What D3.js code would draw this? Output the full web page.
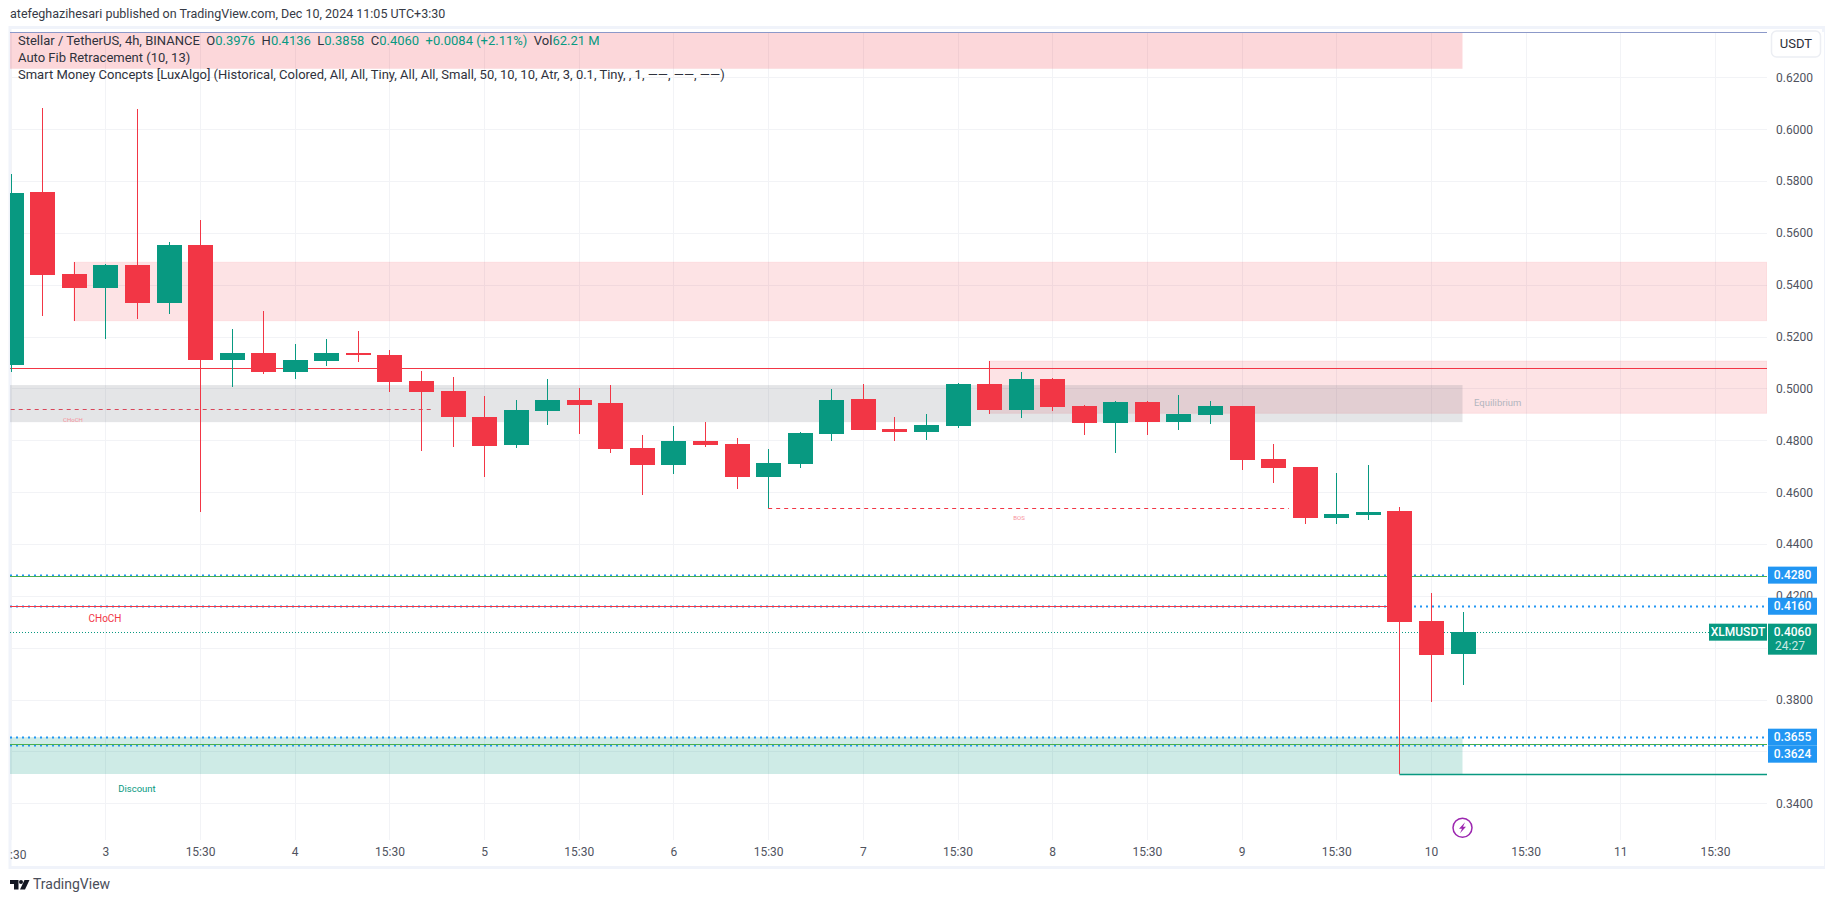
<!DOCTYPE html>
<html>
<head>
<meta charset="utf-8">
<title>XLMUSDT 4h</title>
<script src="https://cdn.jsdelivr.net/npm/d3@7"></script>
<style>
  html, body { margin: 0; padding: 0; background: #fff; overflow: hidden; }
  svg { display: block; }
  text { font-family: Roboto, sans-serif; }
</style>
</head>
<body>
<div id="chart"></div>
<script>
// Candles (bar 0 is cut by the left edge of the pane)
const opens  = [0.5090,0.5757,0.5441,0.5387,0.5476,0.5329,0.5553,0.5109,0.5136,0.5063,0.5106,0.5136,0.5129,0.5028,0.4990,0.4890,0.4782,0.4913,0.4955,0.4944,0.4770,0.4704,0.4797,0.4786,0.4658,0.4708,0.4824,0.4959,0.4843,0.4832,0.4855,0.5017,0.4917,0.5036,0.4932,0.4866,0.4947,0.4870,0.4897,0.4932,0.4728,0.4697,0.4500,0.4512,0.4527,0.4103,0.3976];
const highs  = [0.5827,0.6081,0.5487,0.5480,0.6078,0.5565,0.5649,0.5229,0.5298,0.5171,0.5190,0.5221,0.5148,0.5067,0.5044,0.4971,0.4955,0.5036,0.5001,0.5013,0.4820,0.4855,0.4870,0.4809,0.4766,0.4832,0.4998,0.5017,0.4890,0.4901,0.5021,0.5106,0.5063,0.5040,0.4936,0.4951,0.4951,0.4974,0.4951,0.4932,0.4786,0.4697,0.4674,0.4704,0.4543,0.4211,0.4136];
const lows   = [0.5064,0.5280,0.5261,0.5190,0.5268,0.5287,0.4523,0.5005,0.5055,0.5036,0.5086,0.5102,0.4986,0.4758,0.4774,0.4658,0.4770,0.4859,0.4824,0.4751,0.4589,0.4670,0.4774,0.4612,0.4540,0.4693,0.4797,0.4839,0.4797,0.4801,0.4847,0.4901,0.4886,0.4913,0.4820,0.4751,0.4820,0.4839,0.4863,0.4685,0.4635,0.4477,0.4477,0.4492,0.3513,0.3790,0.3858];
const closes = [0.5754,0.5437,0.5387,0.5476,0.5329,0.5553,0.5109,0.5136,0.5063,0.5109,0.5136,0.5129,0.5025,0.4986,0.4890,0.4778,0.4917,0.4955,0.4936,0.4766,0.4704,0.4797,0.4782,0.4658,0.4712,0.4828,0.4955,0.4839,0.4832,0.4859,0.5017,0.4917,0.5036,0.4928,0.4866,0.4947,0.4870,0.4901,0.4932,0.4724,0.4693,0.4500,0.4516,0.4523,0.4099,0.3972,0.4060];

// Axis ticks
const gridPrices  = [0.34,0.36,0.38,0.40,0.42,0.44,0.46,0.48,0.50,0.52,0.54,0.56,0.58,0.60,0.62];
const labelPrices = [0.34,0.38,0.42,0.44,0.46,0.48,0.50,0.52,0.54,0.56,0.58,0.60,0.62];
const timeBars    = [0,3,6,9,12,15,18,21,24,27,30,33,36,39,42,45,48,51,54];
const timeLabels  = ["15:30","3","15:30","4","15:30","5","15:30","6","15:30","7","15:30","8","15:30","9","15:30","10","15:30","11","15:30"];

// Smart money zones: first bar, last bar (null = runs to the price scale), top, bottom
const zoneStarts  = [0,2,31,0,0];
const zoneEnds    = [46,null,null,46,46];
const zoneTops    = [0.6373,0.5487,0.5106,0.5013,0.3655];
const zoneBottoms = [0.6233,0.5261,0.4904,0.4870,0.3513];
const zoneKinds   = ["premium","supply","supply","equilibrium","discount"];

// Structure lines
const chochPrice = 0.4919, chochStart = 0, chochEnd = 13.4;
const bosPrice = 0.4540, bosStart = 24, bosEnd = 40.5;
const swingHigh = 0.5077;
const fibRed = 0.4162, fibRedEnd = 44;
const fibGreenA = 0.4277, fibGreenB = 0.3628;
const swingLow = 0.3513, swingLowStart = 44;

// Price scale labels
const bluePrices = [0.4280,0.4160,0.3655,0.3624];
const lastPrice = 0.4060;
const countdown = "24:27";
const currencyLabel = "USDT", symbolLabel = "XLMUSDT";

const GREEN = "#089981", RED = "#F23645", BLUE = "#2196F3";
const paneLeft = 10, paneRight = 1767, paneTop = 32, paneBottom = 840;

const x = d3.scaleLinear().domain([0, 46]).range([10.7, 1462.5]);
const y = d3.scaleLinear().domain([0.34, 0.62]).range([803.3, 77.3]);

const svg = d3.select("#chart").append("svg")
    .attr("width", 1835)
    .attr("height", 903);

// Outer frame of the published snapshot
svg.append("rect")
    .attr("x", 10).attr("y", 27.5)
    .attr("width", 1813.5).attr("height", 840)
    .attr("fill", "#fff")
    .attr("stroke", "#f0f3fa")
    .attr("stroke-width", 3);

svg.append("defs").append("clipPath").attr("id", "pane")
    .append("rect")
    .attr("x", paneLeft).attr("y", paneTop)
    .attr("width", paneRight - paneLeft).attr("height", paneBottom - paneTop);

const pane = svg.append("g").attr("clip-path", "url(#pane)");

// Grid
pane.selectAll(".hgrid").data(gridPrices).enter().append("line")
    .attr("x1", paneLeft).attr("x2", paneRight)
    .attr("y1", d => Math.round(y(d)) + 0.5).attr("y2", d => Math.round(y(d)) + 0.5)
    .attr("stroke", "#f2f3f6");
pane.selectAll(".vgrid").data(timeBars).enter().append("line")
    .attr("x1", d => Math.round(x(d)) + 0.5).attr("x2", d => Math.round(x(d)) + 0.5)
    .attr("y1", paneTop).attr("y2", paneBottom)
    .attr("stroke", "#f2f3f6");

// Zones
const zoneFill = {
    premium: "rgba(242,54,69,0.2)",
    supply: "rgba(242,54,69,0.14)",
    equilibrium: "rgba(120,123,134,0.2)",
    discount: "rgba(8,153,129,0.2)"
};
pane.selectAll(".zone").data(zoneKinds).enter().append("rect")
    .attr("x", (d, i) => zoneStarts[i] === 0 ? paneLeft : x(zoneStarts[i]))
    .attr("width", (d, i) => {
        const x0 = zoneStarts[i] === 0 ? paneLeft : x(zoneStarts[i]);
        return (zoneEnds[i] === null ? paneRight : x(zoneEnds[i])) - x0;
    })
    .attr("y", (d, i) => y(zoneTops[i]))
    .attr("height", (d, i) => y(zoneBottoms[i]) - y(zoneTops[i]))
    .attr("fill", d => zoneFill[d])
    .attr("stroke", d => d === "supply" ? "rgba(242,54,69,0.08)" : "none");

// Pale blue line along the top of the pane
pane.append("line")
    .attr("x1", paneLeft).attr("x2", paneRight)
    .attr("y1", 32.5).attr("y2", 32.5)
    .attr("stroke", "#8c99c9");

function hLine(price, x1, x2, color, width, dash) {
    const yPos = Math.round(y(price)) + 0.5;
    pane.append("line")
        .attr("x1", x1).attr("x2", x2)
        .attr("y1", yPos).attr("y2", yPos)
        .attr("stroke", color)
        .attr("stroke-width", width)
        .attr("stroke-dasharray", dash || null);
}

hLine(swingHigh, paneLeft, paneRight, RED, 1);
hLine(chochPrice, x(chochStart), x(chochEnd), "#d9475a", 1, "4 4");
hLine(bosPrice, x(bosStart), x(bosEnd), RED, 1, "4 4");

// Fib levels, dotted blue, with the green and red lines next to them
bluePrices.forEach(p => hLine(p, paneLeft, paneRight, BLUE, 2, "2 4"));
hLine(fibGreenA, paneLeft, paneRight, "#4caf50", 1);
hLine(fibGreenB, paneLeft, paneRight, "#4caf50", 1);
hLine(fibRed, paneLeft, x(fibRedEnd), RED, 1);
hLine(lastPrice, paneLeft, paneRight, GREEN, 1, "1 2");
hLine(swingLow, x(swingLowStart), paneRight, GREEN, 1.5);

// Candles
const bars = d3.range(opens.length);
const bodyWidth = 25;

const candle = pane.selectAll(".candle").data(bars).enter().append("g")
    .attr("class", "candle")
    .attr("fill", i => closes[i] >= opens[i] ? GREEN : RED)
    .attr("shape-rendering", "crispEdges");

candle.append("rect")
    .attr("x", i => Math.round(x(i)))
    .attr("width", 1)
    .attr("y", i => y(highs[i]))
    .attr("height", i => y(lows[i]) - y(highs[i]));

candle.append("rect")
    .attr("x", i => Math.round(x(i)) - 12)
    .attr("width", bodyWidth)
    .attr("y", i => y(Math.max(opens[i], closes[i])))
    .attr("height", i => Math.max(1, Math.abs(y(opens[i]) - y(closes[i]))));

// Small labels of the indicator
function paneText(str, xPos, yPos, color, size, anchor) {
    pane.append("text")
        .attr("x", xPos).attr("y", yPos)
        .attr("dominant-baseline", "middle")
        .attr("text-anchor", anchor || "middle")
        .attr("font-size", size + "px")
        .attr("fill", color)
        .text(str);
}
paneText("CHoCH", 73, y(chochPrice) + 11, "#f7929b", 6);
paneText("BOS", 1019, y(bosPrice) + 11, "#f7929b", 6);
paneText("Equilibrium", 1474, 403.7, "#b2b5be", 9.5, "start");
paneText("CHoCH", 105, 619.7, RED, 10);
paneText("Discount", 137, 789.5, GREEN, 9.5);

// Right axis
svg.append("rect")
    .attr("x", paneRight).attr("y", paneTop)
    .attr("width", 1824 - paneRight).attr("height", 834)
    .attr("fill", "#fff");

const yAxis = svg.append("g")
    .attr("transform", `translate(${paneRight},0)`)
    .call(d3.axisRight(y).tickValues(labelPrices).tickFormat(d3.format(".4f")).tickSize(0).tickPadding(9));
yAxis.select(".domain").remove();
yAxis.selectAll("text")
    .attr("font-family", "Roboto, sans-serif")
    .attr("font-size", "12px")
    .attr("fill", "#50535e");

// Time axis
const xAxis = svg.append("g")
    .attr("transform", `translate(0,${paneBottom})`)
    .call(d3.axisBottom(x).tickValues(timeBars.slice(1))
        .tickFormat((d, i) => timeLabels[i + 1]).tickSize(0).tickPadding(7));
xAxis.select(".domain").remove();
xAxis.selectAll("text")
    .attr("font-family", "Roboto, sans-serif")
    .attr("font-size", "12px")
    .attr("fill", "#50535e");

// The first time label is cut by the pane edge
svg.append("text")
    .attr("x", 10).attr("y", paneBottom + 19)
    .attr("font-size", "12px").attr("fill", "#50535e")
    .text(":30");

// Price labels, pushed down when they would overlap
let lastY = -Infinity;
bluePrices.forEach(p => {
    const yPos = Math.max(y(p), lastY + 17);
    lastY = yPos;
    svg.append("rect")
        .attr("x", 1768).attr("y", yPos - 8.5)
        .attr("width", 49).attr("height", 17)
        .attr("fill", BLUE);
    svg.append("text")
        .attr("x", 1792.5).attr("y", yPos + 0.5)
        .attr("text-anchor", "middle").attr("dominant-baseline", "middle")
        .attr("font-size", "12px").attr("font-weight", 500).attr("fill", "#fff")
        .text(d3.format(".4f")(p));
});

svg.append("rect")
    .attr("x", 1768).attr("y", y(lastPrice) - 8.5)
    .attr("width", 49).attr("height", 31)
    .attr("fill", GREEN);
svg.append("text")
    .attr("x", 1792.5).attr("y", y(lastPrice) + 0.5)
    .attr("text-anchor", "middle").attr("dominant-baseline", "middle")
    .attr("font-size", "12px").attr("font-weight", 500).attr("fill", "#fff")
    .text(d3.format(".4f")(lastPrice));
svg.append("text")
    .attr("x", 1775).attr("y", y(lastPrice) + 14.5)
    .attr("dominant-baseline", "middle")
    .attr("font-size", "12px").attr("fill", "#cdeae4")
    .text(countdown);

svg.append("rect")
    .attr("x", 1709).attr("y", y(lastPrice) - 8.5)
    .attr("width", 58).attr("height", 17)
    .attr("fill", GREEN);
svg.append("text")
    .attr("x", 1738).attr("y", y(lastPrice) + 0.5)
    .attr("text-anchor", "middle").attr("dominant-baseline", "middle")
    .attr("font-size", "12px").attr("font-weight", 500).attr("fill", "#fff")
    .text(symbolLabel);

// Currency button
svg.append("rect")
    .attr("x", 1771.5).attr("y", 31)
    .attr("width", 49).attr("height", 26)
    .attr("rx", 5)
    .attr("fill", "#fff").attr("stroke", "#eceef3").attr("stroke-width", 1.5);
svg.append("text")
    .attr("x", 1796).attr("y", 44.5)
    .attr("text-anchor", "middle").attr("dominant-baseline", "middle")
    .attr("font-size", "13px").attr("fill", "#2a2e39")
    .text(currencyLabel);

// Publisher line
svg.append("text")
    .attr("x", 10).attr("y", 15)
    .attr("dominant-baseline", "middle")
    .attr("font-size", "12.5px").attr("fill", "#363a45")
    .text("atefeghazihesari published on TradingView.com, Dec 10, 2024 11:05 UTC+3:30");

// Legend rows
const legendDark = "#2f323c";
const legend = svg.append("text")
    .attr("x", 18).attr("y", 41.5)
    .attr("dominant-baseline", "middle")
    .attr("font-size", "13px")
    .attr("xml:space", "preserve")
    .attr("fill", legendDark);
[["Stellar / TetherUS, 4h, BINANCE  O", legendDark], ["0.3976", GREEN], ["  H", legendDark], ["0.4136", GREEN],
 ["  L", legendDark], ["0.3858", GREEN], ["  C", legendDark], ["0.4060", GREEN],
 ["  +0.0084 (+2.11%)", GREEN], ["  Vol", legendDark], ["62.21 M", GREEN]].forEach(d => {
    legend.append("tspan").attr("fill", d[1]).text(d[0]);
});
svg.append("text")
    .attr("x", 18).attr("y", 59)
    .attr("dominant-baseline", "middle")
    .attr("font-size", "13px").attr("fill", legendDark)
    .text("Auto Fib Retracement (10, 13)");
svg.append("text")
    .attr("x", 18).attr("y", 76)
    .attr("dominant-baseline", "middle")
    .attr("font-size", "13px").attr("fill", legendDark)
    .text("Smart Money Concepts [LuxAlgo] (Historical, Colored, All, All, Tiny, All, All, Small, 50, 10, 10, Atr, 3, 0.1, Tiny, , 1, \u2014\u2014, \u2014\u2014, \u2014\u2014)");

// Round marker under the last bar
const marker = svg.append("g").attr("transform", `translate(${x(46)},827.7)`);
marker.append("circle")
    .attr("r", 9.5)
    .attr("fill", "#fff")
    .attr("stroke", "#9c27b0")
    .attr("stroke-width", 1.5);
marker.append("path")
    .attr("d", "M2.5,-5.5 L-3.5,1 L-0.5,1 L-2.5,5.5 L3.5,-1 L0.5,-1 Z")
    .attr("fill", "#9c27b0");

// TradingView logo and word mark
const logo = svg.append("g").attr("transform", "translate(10,880)").attr("fill", "#131722");
logo.append("path").attr("d", "M0,0 H8.5 V9.5 H4 V4 H0 Z");
logo.append("circle").attr("cx", 11).attr("cy", 2).attr("r", 2);
logo.append("path").attr("d", "M14.5,0 H19.5 L15,9.5 H10 Z");
svg.append("text")
    .attr("x", 33).attr("y", 885.5)
    .attr("dominant-baseline", "middle")
    .attr("font-size", "14px").attr("fill", "#4a4e59")
    .text("TradingView");
</script>
</body>
</html>
